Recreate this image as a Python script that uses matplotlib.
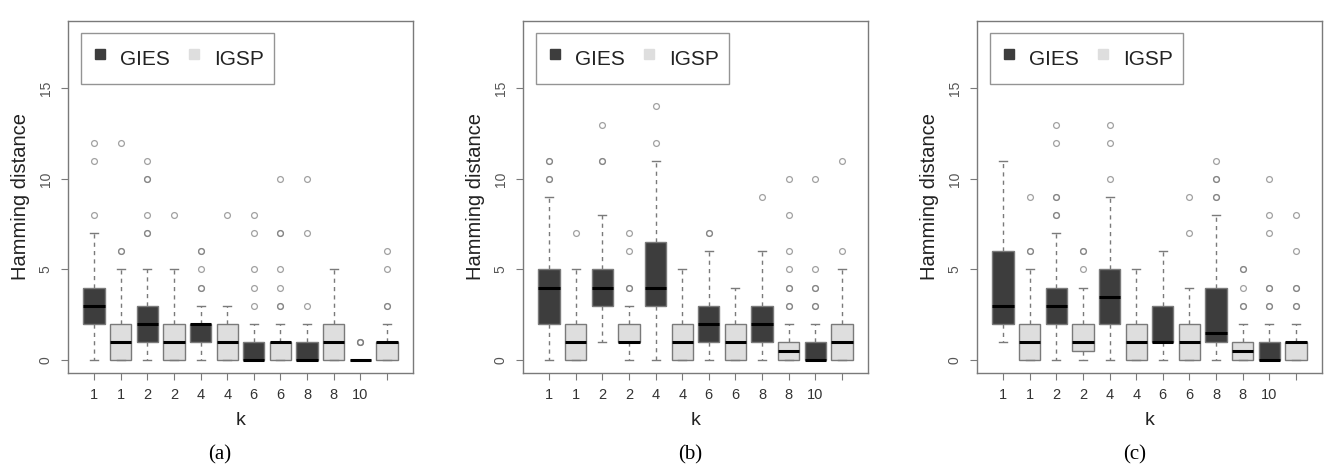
import numpy as np
import matplotlib.pyplot as plt
from matplotlib.lines import Line2D

plt.rcParams['font.family'] = ['Liberation Sans', 'DejaVu Sans']

# boxes alternate GIES / IGSP, one pair per k
k_labels = ['1', '1', '2', '2', '4', '4', '6', '6', '8', '8', '10', '']
methods = ['GIES', 'IGSP']
captions = ['(a)', '(b)', '(c)']

# panel (a)
a_q1 = [2, 0, 1, 0, 1, 0, 0, 0, 0, 0, 0, 0]
a_med = [3, 1, 2, 1, 2, 1, 0, 1, 0, 1, 0, 1]
a_q3 = [4, 2, 3, 2, 2, 2, 1, 1, 1, 2, 0, 1]
a_lo = [0, 0, 0, 0, 0, 0, 0, 0, 0, 0, 0, 0]
a_hi = [7, 5, 5, 5, 3, 3, 2, 2, 2, 5, 0, 2]
a_out = [[8, 11, 12], [6, 6, 12], [7, 7, 8, 10, 10, 11], [8], [4, 4, 5, 6, 6], [8],
         [3, 4, 5, 7, 8], [3, 3, 4, 5, 7, 7, 10], [3, 7, 10], [], [1, 1, 1], [3, 3, 5, 6]]

# panel (b)
b_q1 = [2, 0, 3, 1, 3, 0, 1, 0, 1, 0, 0, 0]
b_med = [4, 1, 4, 1, 4, 1, 2, 1, 2, 0.5, 0, 1]
b_q3 = [5, 2, 5, 2, 6.5, 2, 3, 2, 3, 1, 1, 2]
b_lo = [0, 0, 1, 0, 0, 0, 0, 0, 0, 0, 0, 0]
b_hi = [9, 5, 8, 3, 11, 5, 6, 4, 6, 2, 2, 5]
b_out = [[10, 10, 11, 11], [7], [11, 11, 13], [4, 4, 6, 7], [12, 14], [], [7, 7], [],
         [9], [3, 3, 4, 4, 5, 6, 8, 10], [3, 3, 4, 4, 5, 10], [6, 11]]

# panel (c)
c_q1 = [2, 0, 2, 0.5, 2, 0, 1, 0, 1, 0, 0, 0]
c_med = [3, 1, 3, 1, 3.5, 1, 1, 1, 1.5, 0.5, 0, 1]
c_q3 = [6, 2, 4, 2, 5, 2, 3, 2, 4, 1, 1, 1]
c_lo = [1, 0, 0, 0, 0, 0, 0, 0, 0, 0, 0, 0]
c_hi = [11, 5, 7, 4, 9, 5, 6, 4, 8, 2, 2, 2]
c_out = [[], [6, 6, 9], [8, 8, 9, 9, 12, 13], [5, 6, 6], [10, 12, 13], [], [], [7, 9],
         [9, 9, 10, 10, 11], [3, 3, 4, 5, 5], [3, 3, 4, 4, 7, 8, 10], [3, 3, 4, 4, 6, 8]]

panels = [
    (a_q1, a_med, a_q3, a_lo, a_hi, a_out),
    (b_q1, b_med, b_q3, b_lo, b_hi, b_out),
    (c_q1, c_med, c_q3, c_lo, c_hi, c_out),
]

dark = '#3d3d3d'
light = '#dedede'
grey = '#7a7a7a'

fig = plt.figure(figsize=(13.42, 4.76), dpi=100)
lefts = [68, 523, 977]
cap_x = [220, 690, 1135]

for i, (q1, med, q3, lo, hi, out) in enumerate(panels):
    ax = fig.add_axes([lefts[i] / 1342, 103 / 476, 345 / 1342, 352 / 476])
    stats = []
    for j in range(12):
        stats.append(dict(q1=q1[j], med=med[j], q3=q3[j], whislo=lo[j],
                          whishi=hi[j], fliers=out[j]))
    pos = np.arange(1, 13)
    bp = ax.bxp(stats, positions=pos, widths=0.8, patch_artist=True,
                capwidths=0.3,
                boxprops=dict(edgecolor=grey, linewidth=1),
                medianprops=dict(color='black', linewidth=2.2, solid_capstyle='butt'),
                whiskerprops=dict(color=grey, linewidth=1, linestyle=(0, (3, 3))),
                capprops=dict(color=grey, linewidth=1),
                flierprops=dict(marker='o', markersize=4.2, markerfacecolor='none',
                                markeredgecolor=grey, markeredgewidth=0.9, alpha=0.7))
    for j, box in enumerate(bp['boxes']):
        box.set_facecolor(dark if j % 2 == 0 else light)

    ax.set_xlim(0.02, 12.98)
    ax.set_ylim(-0.72, 18.72)
    ax.set_xticks(pos)
    ax.set_xticklabels(k_labels)
    ax.set_yticks([0, 5, 10, 15])
    ax.set_yticklabels(['0', '5', '10', '15'], rotation=90, va='center')
    ax.tick_params(axis='x', colors=grey, labelcolor='#333333', labelsize=10.5,
                   length=5, pad=6)
    ax.tick_params(axis='y', colors=grey, labelcolor='#555555', labelsize=10,
                   length=5, pad=6)
    for s in ax.spines.values():
        s.set_color(grey)
        s.set_linewidth(1)
    ax.set_xlabel('k', fontsize=14, color='#222222', labelpad=7)
    ax.set_ylabel('Hamming distance', fontsize=14.5, color='#222222', labelpad=6)

    handles = [Line2D([], [], linestyle='none', marker='s', markersize=7,
                      markerfacecolor=dark, markeredgecolor=dark),
               Line2D([], [], linestyle='none', marker='s', markersize=7,
                      markerfacecolor=light, markeredgecolor=light)]
    leg = ax.legend(handles, methods, loc='upper left', bbox_to_anchor=(0.038, 0.966),
                    borderaxespad=0, ncol=2, fontsize=15, frameon=True, fancybox=False,
                    handlelength=0.8, handleheight=1.85, handletextpad=0.56,
                    columnspacing=0.75, borderpad=0.5)
    leg.get_frame().set_edgecolor(grey)
    leg.get_frame().set_linewidth(1)
    for t in leg.get_texts():
        t.set_color('#222222')

    fig.text(cap_x[i] / 1342, 21 / 476, captions[i], ha='center', va='center',
             fontsize=15, family='Liberation Serif')

fig.savefig('out.png', dpi=100)
